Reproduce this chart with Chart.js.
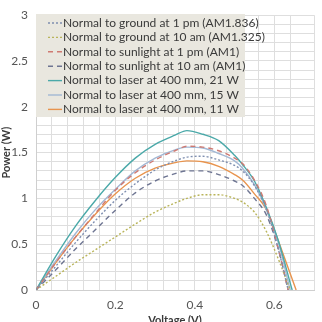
<!DOCTYPE html>
<html>
<head>
<meta charset="utf-8">
<script src="https://cdn.jsdelivr.net/npm/chart.js@4.4.0/dist/chart.umd.min.js"></script>
<style>
  html, body { margin: 0; padding: 0; background: #fff; }
  #wrap { width: 322px; height: 322px; }
</style>
</head>
<body>
<div id="wrap"><canvas id="myChart" width="322" height="322"></canvas></div>
<script>
// voltage points shared by all curves (V)
var volts = [0, 0.05, 0.1, 0.15, 0.2, 0.25, 0.3, 0.35, 0.38, 0.42, 0.46, 0.5, 0.52, 0.55, 0.58, 0.61];

// power (W)
var groundAt1pm   = [0, 0.26, 0.52, 0.76, 0.98, 1.16, 1.31, 1.41, 1.45, 1.46, 1.42, 1.36, 1.30, 1.14, 0.88, 0.45];
var groundAt10am  = [0, 0.15, 0.30, 0.44, 0.58, 0.72, 0.85, 0.95, 1.00, 1.04, 1.04, 1.00, 0.96, 0.85, 0.64, 0.34];
var sunAt1pm      = [0, 0.30, 0.58, 0.84, 1.09, 1.28, 1.42, 1.52, 1.57, 1.56, 1.52, 1.44, 1.38, 1.20, 0.92, 0.45];
var sunAt10am     = [0, 0.22, 0.45, 0.66, 0.87, 1.06, 1.19, 1.27, 1.30, 1.30, 1.26, 1.19, 1.14, 1.00, 0.82, 0.45];
var laser21W      = [0, 0.37, 0.70, 0.98, 1.23, 1.44, 1.59, 1.69, 1.74, 1.70, 1.63, 1.47, 1.37, 1.19, 0.90, 0.54];
var laser15W      = [0, 0.32, 0.62, 0.88, 1.10, 1.30, 1.44, 1.53, 1.56, 1.55, 1.49, 1.41, 1.33, 1.15, 0.88, 0.52];
var laser11W      = [0, 0.30, 0.58, 0.83, 1.05, 1.22, 1.33, 1.39, 1.41, 1.40, 1.35, 1.26, 1.20, 1.05, 0.88, 0.54];

// open circuit voltage of each curve (P = 0)
var vocList = [0.635, 0.64, 0.635, 0.635, 0.645, 0.64, 0.655];

var seriesNames = [
    'Normal to ground at 1 pm (AM1.836)',
    'Normal to ground at 10 am (AM1.325)',
    'Normal to sunlight at 1 pm (AM1)',
    'Normal to sunlight at 10 am (AM1)',
    'Normal to laser at 400 mm, 21 W',
    'Normal to laser at 400 mm, 15 W',
    'Normal to laser at 400 mm, 11 W'
];
var seriesPower = [groundAt1pm, groundAt10am, sunAt1pm, sunAt10am, laser21W, laser15W, laser11W];
var seriesColors = ['#7f8fb0', '#b9b45a', '#cf7a72', '#6e7592', '#4ba9a9', '#a3b8d4', '#e8944e'];
var seriesDash = [[2, 2], [2, 2], [5, 4], [5, 4], [], [], []];

var xTicks = { min: 0, max: 0.7, step: 0.04, label: 0.2 };
var yTicks = { min: 0, max: 3, step: 0.1, label: 0.5 };

function isMultiple(v, m) {
    var r = v / m;
    return Math.abs(r - Math.round(r)) < 1e-6;
}

function fmt(v) {
    return String(Math.round(v * 100) / 100);
}

var datasets = seriesNames.map(function (name, i) {
    var pts = volts.map(function (v, j) { return { x: v, y: seriesPower[i][j] }; });
    pts.push({ x: vocList[i], y: 0 });
    return {
        label: name,
        data: pts,
        showLine: true,
        borderColor: seriesColors[i],
        borderWidth: 1.4,
        borderDash: seriesDash[i],
        pointRadius: 0,
        fill: false,
        cubicInterpolationMode: 'monotone'
    };
});

// legend box drawn inside the plot + axis titles
var overlay = {
    id: 'overlay',
    afterDraw: function (chart) {
        var ctx = chart.ctx;
        var area = chart.chartArea;
        ctx.save();

        // legend
        var bx = area.left, by = 14, bw = 209, bh = 103;
        ctx.fillStyle = '#e9e7df';
        ctx.fillRect(bx, by, bw, bh);
        ctx.font = '12px Lato, "Liberation Sans", sans-serif';
        ctx.textBaseline = 'middle';
        seriesNames.forEach(function (name, i) {
            var cy = by + 9 + i * 14.4;
            ctx.beginPath();
            ctx.strokeStyle = seriesColors[i];
            ctx.lineWidth = 1.4;
            ctx.setLineDash(seriesDash[i]);
            ctx.moveTo(bx + 12, cy);
            ctx.lineTo(bx + 26, cy);
            ctx.stroke();
            ctx.setLineDash([]);
            ctx.fillStyle = '#3a3a3a';
            ctx.textAlign = 'left';
            ctx.fillText(name, bx + 27, cy);
        });

        // axis titles
        ctx.fillStyle = '#3a3a3a';
        ctx.font = 'bold 11px Lato, "Liberation Sans", sans-serif';
        ctx.textAlign = 'center';
        ctx.textBaseline = 'middle';
        ctx.fillText('Voltage (V)', (area.left + area.right) / 2, 320);
        ctx.translate(6, (area.top + area.bottom) / 2);
        ctx.rotate(-Math.PI / 2);
        ctx.fillText('Power (W)', 0, 0);
        ctx.restore();
    }
};

var ctx = document.getElementById('myChart').getContext('2d');
var myChart = new Chart(ctx, {
    type: 'scatter',
    data: { datasets: datasets },
    options: {
        responsive: false,
        animation: false,
        devicePixelRatio: 1,
        layout: { padding: { top: 13, right: 4, left: 0, bottom: 0 } },
        plugins: {
            legend: { display: false },
            tooltip: { enabled: false }
        },
        scales: {
            x: {
                type: 'linear',
                min: xTicks.min,
                max: xTicks.max,
                afterFit: function (s) { s.height = 32; },
                grid: { color: '#dedede', lineWidth: 1, drawTicks: false },
                border: { color: '#cfcfcf' },
                ticks: {
                    stepSize: xTicks.step,
                    padding: 8,
                    autoSkip: false,
                    maxRotation: 0,
                    color: '#555',
                    font: { family: 'Lato, "Liberation Sans", sans-serif', size: 12 },
                    callback: function (v) { return isMultiple(v, xTicks.label) ? fmt(v) : ''; }
                }
            },
            y: {
                min: yTicks.min,
                max: yTicks.max,
                afterFit: function (s) { s.width = 36; },
                grid: { color: '#dedede', lineWidth: 1, drawTicks: false },
                border: { color: '#cfcfcf' },
                ticks: {
                    stepSize: yTicks.step,
                    padding: 8,
                    autoSkip: false,
                    color: '#555',
                    font: { family: 'Lato, "Liberation Sans", sans-serif', size: 12 },
                    callback: function (v) { return isMultiple(v, yTicks.label) ? fmt(v) : ''; }
                }
            }
        }
    },
    plugins: [overlay]
});
</script>
</body>
</html>
